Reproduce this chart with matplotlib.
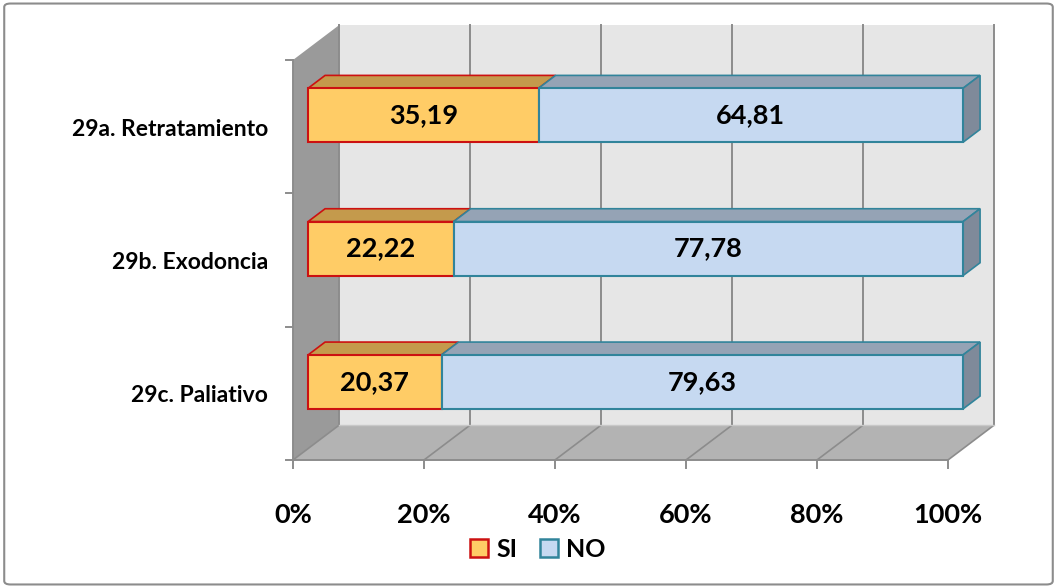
import matplotlib
matplotlib.use('Agg')
import matplotlib.pyplot as plt
from matplotlib.patches import Polygon, Patch, FancyBboxPatch

categories = ['29c. Paliativo', '29b. Exodoncia', '29a. Retratamiento']
si_values = [20.37, 22.22, 35.19]
no_values = [79.63, 77.78, 64.81]
x_ticks = [0, 20, 40, 60, 80, 100]
x_tick_labels = ['0%', '20%', '40%', '60%', '80%', '100%']

font = ['Lato', 'DejaVu Sans']
plt.rcParams['font.family'] = font

# depth of the 3d box in data units
dX, dY = 7.0, 0.26
f0, f1 = 0.33, 0.70
bar_h = 0.405

fig = plt.figure(figsize=(10.57, 5.88), dpi=100)
ax = fig.add_axes([270 / 1057, 108 / 588, 740 / 1057, 470 / 588])
ax.set_xlim(-3.51, 109.47)
ax.set_ylim(-0.15, 3.375)
ax.axis('off')

n = len(categories)
edge_gray = '#8c8c8c'

# walls
ax.add_patch(Polygon([(dX, dY), (100 + dX, dY), (100 + dX, n + dY), (dX, n + dY)],
                     closed=True, fc='#e6e6e6', ec='none', zorder=1))
ax.add_patch(Polygon([(0, 0), (dX, dY), (dX, n + dY), (0, n)],
                     closed=True, fc='#9a9a9a', ec='none', zorder=1))
ax.add_patch(Polygon([(0, 0), (100, 0), (100 + dX, dY), (dX, dY)],
                     closed=True, fc='#b3b3b3', ec='none', zorder=1))

# gridlines on back wall and floor
for t in x_ticks:
    ax.plot([t + dX, t + dX], [dY, n + dY], color=edge_gray, lw=1.4, zorder=2)
    ax.plot([t, t + dX], [0, dY], color=edge_gray, lw=1.2, zorder=2)
ax.plot([dX, 100 + dX], [dY, dY], color='#c8c8c8', lw=1.0, zorder=2)

# axes lines and ticks
ax.plot([0, 100], [0, 0], color=edge_gray, lw=1.4, zorder=2)
ax.plot([0, 0], [0, n], color=edge_gray, lw=1.4, zorder=2)
for t, lab in zip(x_ticks, x_tick_labels):
    ax.plot([t, t], [0, -0.06], color=edge_gray, lw=1.4, clip_on=False, zorder=2)
    ax.text(t, -0.41, lab, ha='center', va='center',
            fontsize=19.5, fontweight='bold', color='black')
for k in range(n + 1):
    ax.plot([-1.0, 0], [k, k], color=edge_gray, lw=1.4, clip_on=False, zorder=2)

# bars
series = [(si_values, '#ffcc66', '#c49a4c', '#cc1111'),
          (no_values, '#c6d9f1', '#95a3b5', '#31849b')]
for i, cat in enumerate(categories):
    c = i + 0.5
    y0, y1 = c - bar_h / 2, c + bar_h / 2
    left = 0
    for vals, face, top, edge in series:
        a, b = left, left + vals[i]
        # top face
        ax.add_patch(Polygon([(a + f0 * dX, y1 + f0 * dY), (b + f0 * dX, y1 + f0 * dY),
                              (b + f1 * dX, y1 + f1 * dY), (a + f1 * dX, y1 + f1 * dY)],
                             closed=True, fc=top, ec=edge, lw=1.2, zorder=3))
        # front face
        ax.add_patch(Polygon([(a + f0 * dX, y0 + f0 * dY), (b + f0 * dX, y0 + f0 * dY),
                              (b + f0 * dX, y1 + f0 * dY), (a + f0 * dX, y1 + f0 * dY)],
                             closed=True, fc=face, ec=edge, lw=1.5, zorder=4))
        ax.text((a + b) / 2 + f0 * dX, c + f0 * dY, f'{vals[i]:.2f}'.replace('.', ','),
                ha='center', va='center', fontsize=19.5, fontweight='bold', zorder=6)
        left = b
    # right face of the last segment
    ax.add_patch(Polygon([(left + f0 * dX, y0 + f0 * dY), (left + f1 * dX, y0 + f1 * dY),
                          (left + f1 * dX, y1 + f1 * dY), (left + f0 * dX, y1 + f0 * dY)],
                         closed=True, fc='#7f8a9a', ec='#31849b', lw=1.2, zorder=3))
    ax.text(-3.8, c - 0.02, cat, ha='right', va='center', fontsize=16.5, fontweight='bold')

handles = [Patch(fc='#ffcc66', ec='#cc1111', lw=1.8, label='SI'),
           Patch(fc='#c6d9f1', ec='#31849b', lw=1.8, label='NO')]
fig.legend(handles=handles, loc='center', bbox_to_anchor=(0.509, 0.066), ncol=2,
           frameon=False, handlelength=0.7, handleheight=0.7, handletextpad=0.35,
           columnspacing=0.9, prop={'size': 18, 'weight': 'bold'})

fig.patches.append(FancyBboxPatch((0.004, 0.006), 0.992, 0.988, boxstyle='round,pad=0,rounding_size=0.006',
                                  transform=fig.transFigure, fc='none', ec='#8c8c8c', lw=1.5))

fig.savefig('out.png', dpi=100)
